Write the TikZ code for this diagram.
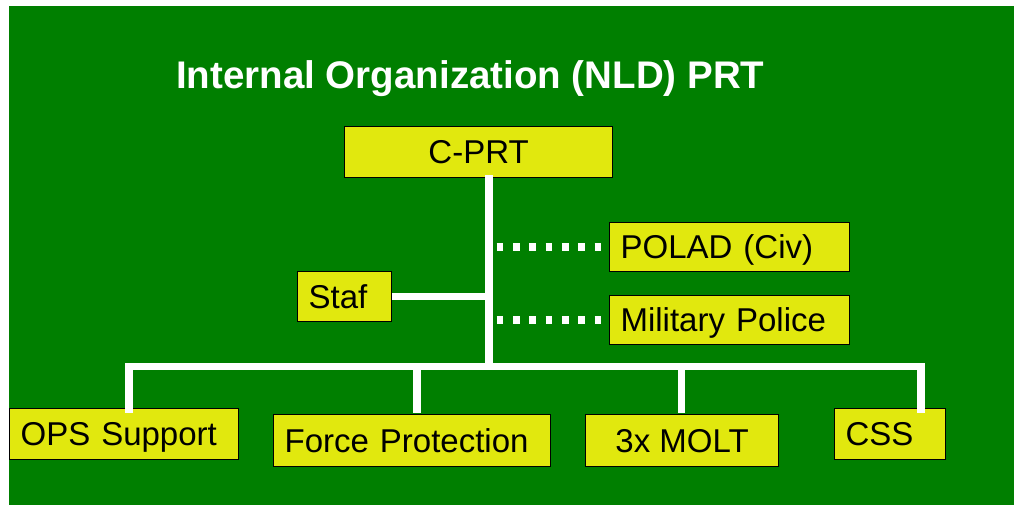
\documentclass[tikz,border=0pt]{standalone}
\usepackage{fontspec}
\setmainfont{Liberation Sans}
\definecolor{bggreen}{RGB}{0,127,0}
\definecolor{boxyellow}{RGB}{225,232,14}
\begin{document}
\begin{tikzpicture}[x=1pt,y=-1pt,
  box/.style={draw=black, line width=1.2pt, fill=boxyellow, text=black,
    font=\fontsize{33}{36}\selectfont, text height=23.6pt, text depth=0pt,
    inner sep=0pt, anchor=north west},
  leftbox/.style={box, align=left, inner xsep=11pt},
  link/.style={draw=white, line width=7.5pt, line join=miter},
  dotlink/.style={draw=white, line width=7.5pt, dash pattern=on 6.7pt off 9.6pt, dash phase=8.6pt},
]
% page and background
\useasboundingbox (0,0) rectangle (1014,504);
\fill[white] (-5,-5) rectangle (1020,510);
\fill[bggreen] (9,6) rectangle (1020,510);

% title
\node[anchor=base west, inner sep=0pt, text=white, font=\bfseries\fontsize{38.5}{42}\selectfont]
  (title) at (176,88) {Internal Organization (NLD) PRT};

% boxes
\node[box, minimum width=268pt, minimum height=51pt] (cprt) at (344,126) {C-PRT};
\node[leftbox, text width=218pt, minimum height=49pt] (polad) at (609,222) {POLAD (Civ)};
\node[leftbox, text width=218pt, minimum height=49pt] (mp) at (609,295) {Military Police};
\node[leftbox, text width=72pt, minimum height=50pt] (staf) at (297,271) {Staf};
\node[leftbox, text width=207pt, minimum height=51pt] (ops) at (9,408) {OPS Support};
\node[leftbox, text width=255pt, minimum height=52pt] (fp) at (273,414) {Force Protection};
\node[box, minimum width=193pt, minimum height=52pt] (molt) at (585,414) {3x MOLT};
\node[leftbox, text width=89pt, minimum height=51pt] (css) at (834,408) {CSS};

% branch points
\coordinate (spine) at (489,174);
\coordinate (hub) at (489,366.5);
\coordinate (opsx) at (129,366.5);
\coordinate (fpx) at (417,366.5);
\coordinate (moltx) at (681.5,366.5);
\coordinate (cssx) at (921,366.5);

% connectors
\draw[link] ([yshift=3pt]cprt.south -| spine) -- (hub);
\draw[link] (staf.east) -- (staf.east -| spine);
\draw[dotlink] (polad.west -| spine) -- (polad.west);
\draw[dotlink] (mp.west -| spine) -- (mp.west);
\draw[link] ([yshift=-5pt]ops.north -| opsx) -- (opsx) -- (cssx) -- ([yshift=-5pt]css.north -| cssx);
\draw[link] (fpx) -- ([yshift=1pt]fp.north -| fpx);
\draw[link] (moltx) -- ([yshift=1pt]molt.north -| moltx);
\end{tikzpicture}
\end{document}
